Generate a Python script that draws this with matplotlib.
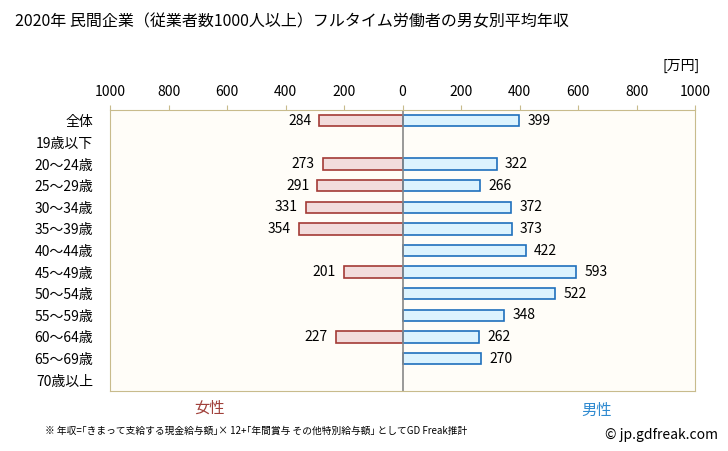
import numpy as np
import matplotlib.pyplot as plt

plt.rcParams['font.family'] = ['Noto Sans CJK JP', 'DejaVu Sans']

categories = ['全体', '19歳以下', '20〜24歳', '25〜29歳', '30〜34歳', '35〜39歳', '40〜44歳',
              '45〜49歳', '50〜54歳', '55〜59歳', '60〜64歳', '65〜69歳', '70歳以上']
female = [284, None, 273, 291, 331, 354, None, 201, None, None, 227, None, None]
male = [399, None, 322, 266, 372, 373, 422, 593, 522, 348, 262, 270, None]
ticks = [-1000, -800, -600, -400, -200, 0, 200, 400, 600, 800, 1000]

fig = plt.figure(figsize=(7.28, 4.51), dpi=100)
ax = fig.add_axes([110 / 728, 1 - 391 / 451, 585 / 728, 281 / 451])
ax.set_facecolor('#fffdf8')

y = np.arange(len(categories))
for i in y:
    f = female[i]
    m = male[i]
    if f is not None:
        ax.barh(i, -f, height=0.52, color='#f2dcdc', edgecolor='#a33a36', linewidth=1.2)
        ax.text(-f - 28, i, str(f), ha='right', va='center', fontsize=10)
    if m is not None:
        ax.barh(i, m, height=0.52, color='#dcf3fe', edgecolor='#1f70bd', linewidth=1.2)
        ax.text(m + 28, i, str(m), ha='left', va='center', fontsize=10)

ax.axvline(0, color='#888888', linewidth=1.2)
ax.set_xlim(-1000, 1000)
ax.set_ylim(len(categories) - 0.5, -0.5)
ax.set_yticks(y)
ax.set_yticklabels(categories, fontsize=10)
ax.tick_params(axis='y', length=0, pad=12)
ax.xaxis.tick_top()
ax.set_xticks(ticks)
ax.set_xticklabels([str(abs(t)) for t in ticks], fontsize=10)
ax.tick_params(axis='x', length=3.6, color='#c8bb8c', pad=4)
for s in ax.spines.values():
    s.set_color('#c8bb8c')

fig.text(15 / 728, 1 - 22 / 451, '2020年 民間企業（従業者数1000人以上）フルタイム労働者の男女別平均年収',
         fontsize=11.5, va='center', ha='left')
fig.text(700 / 728, 1 - 66 / 451, '[万円]', fontsize=10, va='center', ha='right')
fig.text(210 / 728, 1 - 408 / 451, '女性', fontsize=11, color='#a0403a', va='center', ha='center')
fig.text(597 / 728, 1 - 410 / 451, '男性', fontsize=11, color='#2f8ad0', va='center', ha='center')
fig.text(45 / 728, 1 - 431 / 451,
         '※ 年収=｢きまって支給する現金給与額｣× 12+｢年間賞与 その他特別給与額｣ としてGD Freak推計',
         fontsize=7, va='center', ha='left')
fig.text(718 / 728, 1 - 435 / 451, '© jp.gdfreak.com', fontsize=10, va='center', ha='right')

fig.savefig('out.png', dpi=100)
